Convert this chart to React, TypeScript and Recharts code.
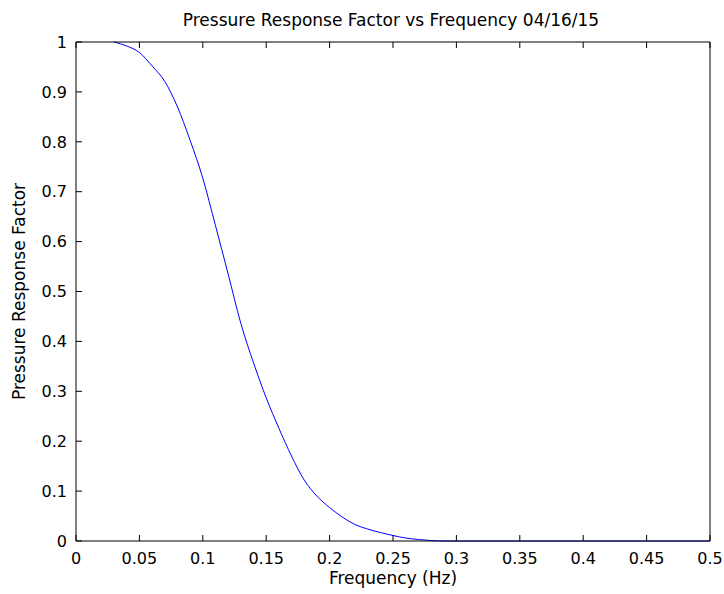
import React from 'react';
import { LineChart, Line, XAxis, YAxis, Label } from 'recharts';

const FONT = '"DejaVu Sans", sans-serif';
const BLUE = '#0000FF';
const TICK_LEN = 6;

// frequency (Hz) and the response
const freq = [
  0.03, 0.04, 0.05, 0.06, 0.07, 0.08, 0.09, 0.1, 0.11, 0.12, 0.13, 0.14, 0.15,
  0.16, 0.17, 0.18, 0.19, 0.2, 0.21, 0.22, 0.23, 0.24, 0.25, 0.26, 0.27, 0.28,
  0.29, 0.3, 0.35, 0.4, 0.45, 0.5,
];
const response = [
  1.0, 0.992, 0.979, 0.952, 0.921, 0.87, 0.803, 0.727, 0.632, 0.535, 0.436, 0.357, 0.287,
  0.226, 0.17, 0.122, 0.09, 0.067, 0.048, 0.033, 0.024, 0.017, 0.011, 0.006, 0.003, 0.001,
  0, 0, 0, 0, 0, 0,
];

const xTicks = [0, 0.05, 0.1, 0.15, 0.2, 0.25, 0.3, 0.35, 0.4, 0.45, 0.5];
const yTicks = [0, 0.1, 0.2, 0.3, 0.4, 0.5, 0.6, 0.7, 0.8, 0.9, 1];

const data = freq.map((f, i) => ({ f, r: response[i] }));

const lineStyle = { stroke: '#000', strokeWidth: 1 };
const X_MARGIN = 11;
const Y_MARGIN = 9;

// matlab style: tick marks point into the plot box
const BottomTick = (p: any) => {
  const axisY = p.y - X_MARGIN;
  return (
    <g>
      <line x1={p.x} x2={p.x} y1={axisY} y2={axisY - TICK_LEN} stroke="#000" />
      <text x={p.x} y={p.y} dy="0.75em" textAnchor="middle" fill="#000" fontSize={16} fontFamily={FONT}>
        {String(p.payload.value)}
      </text>
    </g>
  );
};
const LeftTick = (p: any) => {
  const axisX = p.x + Y_MARGIN;
  return (
    <g>
      <line x1={axisX} x2={axisX + TICK_LEN} y1={p.y} y2={p.y} stroke="#000" />
      <text x={p.x} y={p.y} dy="0.36em" textAnchor="end" fill="#000" fontSize={16} fontFamily={FONT}>
        {String(p.payload.value)}
      </text>
    </g>
  );
};
const TopTick = (p: any) => <line x1={p.x} x2={p.x} y1={p.y} y2={p.y + TICK_LEN} stroke="#000" />;
const RightTick = (p: any) => <line x1={p.x} x2={p.x - TICK_LEN} y1={p.y} y2={p.y} stroke="#000" />;

export default function App() {
  return (
    <div style={{ position: 'absolute', left: 0, top: 0, width: 724, height: 594, background: '#fff' }}>
      <div
        style={{
          position: 'absolute', left: 76, top: 10, width: 630, lineHeight: '20px',
          textAlign: 'center', fontFamily: FONT, fontSize: 17, color: '#000',
        }}
      >
        Pressure Response Factor vs Frequency 04/16/15
      </div>
      <LineChart width={724} height={594} data={data} margin={{ top: 12, right: 0, bottom: 0, left: 0 }}>
        <XAxis
          dataKey="f" type="number" domain={[0, 0.5]} ticks={xTicks} interval={0}
          height={53} tickSize={0} tickMargin={X_MARGIN}
          axisLine={lineStyle} tickLine={false} tick={<BottomTick />}
        >
          <Label value="Frequency (Hz)" position="insideBottom" offset={10}
            style={{ fill: '#000', fontSize: 17, fontFamily: FONT }} />
        </XAxis>
        <XAxis
          xAxisId="top" orientation="top" dataKey="f" type="number" domain={[0, 0.5]}
          ticks={xTicks} interval={0} height={30} tickSize={0} tickMargin={0}
          axisLine={lineStyle} tickLine={false} tick={<TopTick />}
        />
        <YAxis
          type="number" domain={[0, 1]} ticks={yTicks} interval={0}
          width={76} tickSize={0} tickMargin={Y_MARGIN}
          axisLine={lineStyle} tickLine={false} tick={<LeftTick />}
          label={{
            content: (props: any) => {
              const vb = props.viewBox || { x: 0, y: 42, width: 76, height: 499 };
              const cx = vb.x + 19;
              const cy = vb.y + vb.height / 2;
              return (
                <text x={cx} y={cy} transform={`rotate(-90 ${cx} ${cy})`} textAnchor="middle"
                  dy="0.36em" fill="#000" fontSize={17} fontFamily={FONT}>
                  Pressure Response Factor
                </text>
              );
            },
          }}
        />
        <YAxis
          yAxisId="right" orientation="right" type="number" domain={[0, 1]} ticks={yTicks}
          interval={0} width={14} tickSize={0} tickMargin={0}
          axisLine={lineStyle} tickLine={false} tick={<RightTick />}
        />
        <Line
          type="monotone" dataKey="r" stroke={BLUE} strokeWidth={1}
          dot={false} activeDot={false} isAnimationActive={false}
        />
      </LineChart>
    </div>
  );
}
